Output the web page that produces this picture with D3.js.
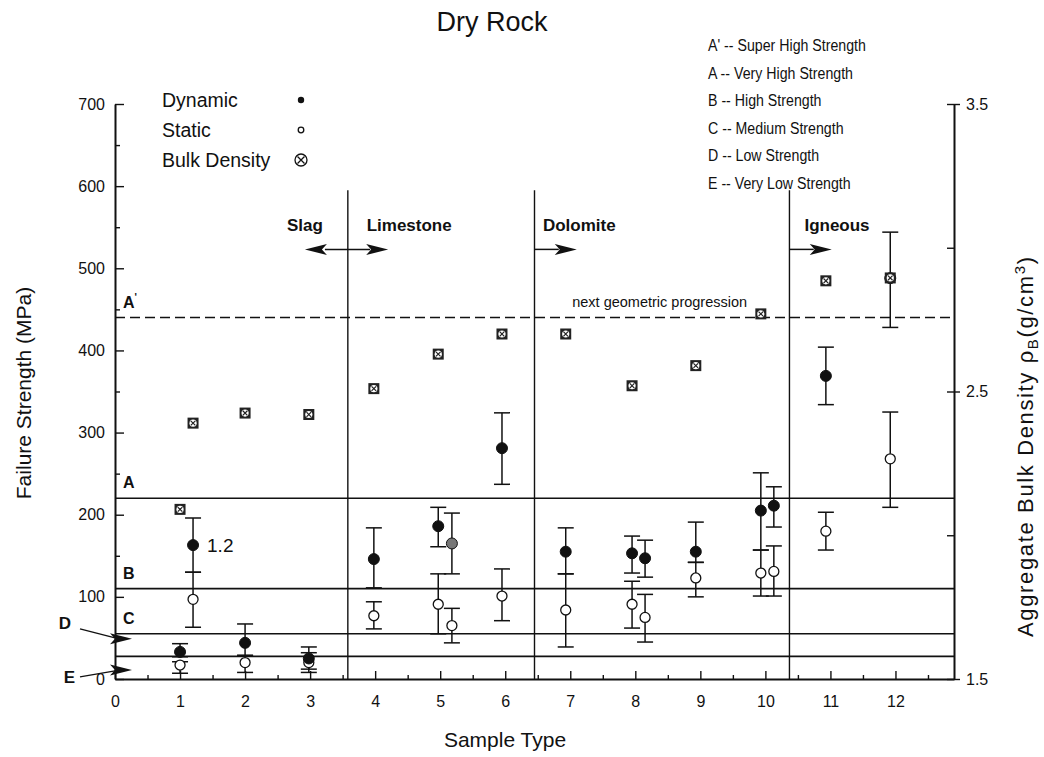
<!DOCTYPE html>
<html lang="en">
<head>
<meta charset="utf-8">
<title>Dry Rock</title>
<script src="https://cdn.jsdelivr.net/npm/d3@7"></script>
<style>
  body { margin: 0; background: #fff; }
  svg { display: block; font-family: "Liberation Sans", Arial, Helvetica, sans-serif; }
</style>
</head>
<body>
<div id="chart"></div>
<script>
    // sample positions (x in "sample type" units) and values
    var sampleX = [1, 1.2, 2, 2.98, 3.98, 4.97, 5.18, 5.95, 6.93, 7.95, 8.15, 8.93, 9.93, 10.13, 10.93, 11.92];

    // dynamic failure strength (MPa) with error bar ends
    var dynVal = [33, 163, 44, 25, 146, 186, 165, 281, 155, 153, 147, 155, 205, 211, 369, 488];
    var dynLo  = [27, 130, 29, 12, 111, 161, 128, 237, 128, 129, 124, 142, 157, 185, 334, 428];
    var dynHi  = [43, 196, 67, 39, 184, 209, 202, 324, 184, 174, 169, 191, 251, 234, 404, 544];

    // static failure strength (MPa)
    var statVal = [17, 97, 20, 20, 77, 91, 65, 101, 84, 91, 75, 123, 129, 131, 180, 268];
    var statLo  = [7, 63, 8, 8, 61, 55, 44, 71, 39, 62, 45, 100, 101, 101, 157, 209];
    var statHi  = [21, 130, 28, 32, 94, 128, 86, 134, 128, 119, 103, 142, 157, 162, 203, 325];

    // aggregate bulk density (g/cm3), right axis
    var bulkX   = [1, 1.2, 2, 2.98, 3.98, 4.97, 5.95, 6.93, 7.95, 8.93, 9.93, 10.93, 11.92];
    var bulkVal = [2.09, 2.39, 2.425, 2.42, 2.51, 2.63, 2.70, 2.70, 2.52, 2.59, 2.77, 2.885, 2.895];

    // strength class boundaries (geometric progression)
    var classLines  = [440, 220, 110, 55, 27.5];
    var classLabels = ["A", "A", "B", "C"];
    var classLegend = ["A' -- Super High Strength", "A -- Very High Strength", "B -- High Strength",
                       "C -- Medium Strength", "D -- Low Strength", "E -- Very Low Strength"];

    // rock type divisions
    var dividers = [3.58, 6.45, 10.37];
    var rockTypes = ["Slag", "Limestone", "Dolomite", "Igneous"];

    var xTicks = d3.range(0, 13);
    var yTicks = d3.range(0, 701, 100);
    var yRightTicks = [1.5, 2.5, 3.5];

    var w = 1044, h = 757;
    var ink = "#111";

    var x = d3.scaleLinear().domain([0, 12.9]).range([115, 954]);
    var y = d3.scaleLinear().domain([0, 700]).range([679, 104]);
    var yR = d3.scaleLinear().domain([1.5, 3.5]).range([679, 104]);

    var svg = d3.select("#chart").append("svg")
        .attr("width", w).attr("height", h);
    svg.append("rect").attr("width", w).attr("height", h).attr("fill", "#fff");

    // title
    svg.append("text")
        .attr("x", 492).attr("y", 31)
        .attr("text-anchor", "middle")
        .style("font-size", "27px")
        .attr("fill", ink)
        .text("Dry Rock");

    // ---- strength class lines ----
    var lines = svg.append("g").attr("stroke", ink).attr("fill", "none");
    classLines.forEach(function (v, i) {
        lines.append("line")
            .attr("x1", x(0)).attr("x2", x(12.9))
            .attr("y1", y(v)).attr("y2", y(v))
            .attr("stroke-width", 1.6)
            .attr("stroke-dasharray", i === 0 ? "10,5" : null);
    });

    // band letters sit just above their line
    classLabels.forEach(function (lab, i) {
        var t = svg.append("text")
            .attr("x", x(0) + 8).attr("y", y(classLines[i]) - 10)
            .style("font-size", "16px").style("font-weight", "bold")
            .attr("fill", ink)
            .text(lab);
        if (i === 0) {
            t.append("tspan").attr("dy", -7).style("font-size", "10px").text("'");
        }
    });

    svg.append("text")
        .attr("x", x(7.03)).attr("y", y(459) + 5)
        .style("font-size", "14.5px")
        .attr("fill", ink)
        .text("next geometric progression");

    // ---- rock type dividers ----
    dividers.forEach(function (d) {
        lines.append("line")
            .attr("x1", x(d)).attr("x2", x(d))
            .attr("y1", y(0)).attr("y2", y(595))
            .attr("stroke-width", 1.4);
    });

    function arrowHead(g, tipX, tipY, dir) {
        var len = 22, half = 5.5;
        g.append("path")
            .attr("d", "M" + tipX + "," + tipY +
                "L" + (tipX - dir * len) + "," + (tipY - half) +
                "L" + (tipX - dir * (len - 5)) + "," + tipY +
                "L" + (tipX - dir * len) + "," + (tipY + half) + "Z")
            .attr("fill", ink);
    }

    var arrowY = y(523);
    var labelY = y(553) + 6;
    var ann = svg.append("g");
    // Slag <-|-> Limestone
    ann.append("line").attr("x1", x(2.92) + 20).attr("x2", x(4.2) - 18)
        .attr("y1", arrowY).attr("y2", arrowY).attr("stroke", ink).attr("stroke-width", 1.5);
    arrowHead(ann, x(2.92), arrowY, -1);
    arrowHead(ann, x(4.2), arrowY, 1);
    // Dolomite ->
    ann.append("line").attr("x1", x(6.45)).attr("x2", x(7.1) - 18)
        .attr("y1", arrowY).attr("y2", arrowY).attr("stroke", ink).attr("stroke-width", 1.5);
    arrowHead(ann, x(7.1), arrowY, 1);
    // Igneous ->
    ann.append("line").attr("x1", x(10.37)).attr("x2", x(11.02) - 18)
        .attr("y1", arrowY).attr("y2", arrowY).attr("stroke", ink).attr("stroke-width", 1.5);
    arrowHead(ann, x(11.02), arrowY, 1);

    var rockX = [x(2.92), x(3.87), x(6.58), x(10.6)];
    rockTypes.forEach(function (r, i) {
        ann.append("text")
            .attr("x", rockX[i]).attr("y", labelY)
            .attr("text-anchor", i === 0 ? "middle" : "start")
            .style("font-size", "17px").style("font-weight", "bold")
            .attr("fill", ink)
            .text(r);
    });

    // ---- axes ----
    function styleAxis(g) {
        g.select(".domain").attr("stroke", ink).attr("stroke-width", 2);
        g.selectAll(".tick line").attr("stroke", ink).attr("stroke-width", 1.4);
        g.selectAll(".tick text").attr("fill", ink).style("font-size", "16px");
    }

    svg.append("g")
        .attr("transform", "translate(" + x(0) + ",0)")
        .call(d3.axisLeft(y).tickValues(yTicks).tickSizeInner(-9).tickSizeOuter(0).tickPadding(10))
        .call(styleAxis);
    svg.append("g")
        .attr("transform", "translate(" + x(0) + ",0)")
        .call(d3.axisLeft(y).tickValues(d3.range(50, 700, 100)).tickSize(-5).tickFormat(""))
        .call(styleAxis)
        .call(function (g) { g.select(".domain").remove(); });

    svg.append("g")
        .attr("transform", "translate(0," + y(0) + ")")
        .call(d3.axisBottom(x).tickValues(xTicks).tickSizeInner(-8).tickSizeOuter(0).tickPadding(17))
        .call(styleAxis);
    svg.append("g")
        .attr("transform", "translate(0," + y(0) + ")")
        .call(d3.axisBottom(x).tickValues(d3.range(0.5, 12.9, 1)).tickSize(-4).tickFormat(""))
        .call(styleAxis)
        .call(function (g) { g.select(".domain").remove(); });

    svg.append("g")
        .attr("transform", "translate(" + x(12.9) + ",0)")
        .call(d3.axisRight(yR).tickValues(yRightTicks).tickSizeInner(6).tickSizeOuter(0).tickPadding(6)
            .tickFormat(d3.format(".1f")))
        .call(styleAxis);
    svg.append("g")
        .attr("transform", "translate(" + x(12.9) + ",0)")
        .call(d3.axisRight(yR).tickValues(d3.range(1.5, 3.51, 0.5)).tickSize(-7).tickFormat(""))
        .call(styleAxis)
        .call(function (g) { g.select(".domain").remove(); });

    // axis titles
    svg.append("text")
        .attr("transform", "translate(24," + 393 + ")rotate(-90)")
        .attr("text-anchor", "middle").attr("dy", "0.35em")
        .style("font-size", "21px").attr("fill", ink)
        .text("Failure Strength (MPa)");

    var rt = svg.append("text")
        .attr("transform", "translate(1025," + 447 + ")rotate(-90)")
        .attr("text-anchor", "middle").attr("dy", "0.35em")
        .attr("textLength", 380).attr("lengthAdjust", "spacing")
        .style("font-size", "22px").attr("fill", ink);
    rt.append("tspan").text("Aggregate Bulk Density \u03c1");
    rt.append("tspan").attr("dy", 5).style("font-size", "15px").text("B");
    rt.append("tspan").attr("dy", -5).text("(g/cm");
    rt.append("tspan").attr("dy", -8).style("font-size", "15px").text("3");
    rt.append("tspan").attr("dy", 8).text(")");

    svg.append("text")
        .attr("x", 505).attr("y", 747)
        .attr("text-anchor", "middle")
        .style("font-size", "21px").attr("fill", ink)
        .text("Sample Type");

    // D and E pointers on the left axis
    var ptr = svg.append("g");
    ptr.append("line").attr("x1", x(0) - 35).attr("y1", y(61)).attr("x2", x(0)).attr("y2", y(50))
        .attr("stroke", ink).attr("stroke-width", 1.3);
    arrowHead(ptr, x(0) + 17, y(49), 1);
    ptr.append("text").attr("x", x(0) - 44).attr("y", y(68) + 6)
        .attr("text-anchor", "end")
        .style("font-size", "17px").style("font-weight", "bold").attr("fill", ink).text("D");
    ptr.append("line").attr("x1", x(0) - 35).attr("y1", y(2.5)).attr("x2", x(0)).attr("y2", y(10))
        .attr("stroke", ink).attr("stroke-width", 1.3);
    arrowHead(ptr, x(0) + 17, y(11), 1);
    ptr.append("text").attr("x", x(0) - 40).attr("y", y(2.5) + 6)
        .attr("text-anchor", "end")
        .style("font-size", "17px").style("font-weight", "bold").attr("fill", ink).text("E");

    // ---- error bars ----
    function errorBars(vals, lo, hi) {
        var g = svg.append("g").attr("stroke", ink).attr("stroke-width", 1.5);
        sampleX.forEach(function (sx, i) {
            var cx = x(sx);
            g.append("line").attr("x1", cx).attr("x2", cx).attr("y1", y(lo[i])).attr("y2", y(hi[i]));
            g.append("line").attr("x1", cx - 8).attr("x2", cx + 8).attr("y1", y(lo[i])).attr("y2", y(lo[i]));
            g.append("line").attr("x1", cx - 8).attr("x2", cx + 8).attr("y1", y(hi[i])).attr("y2", y(hi[i]));
        });
    }
    errorBars(statVal, statLo, statHi);
    errorBars(dynVal, dynLo, dynHi);

    // static: open circles
    svg.append("g").selectAll("circle")
        .data(statVal)
        .enter()
        .append("circle")
        .attr("cx", function (d, i) { return x(sampleX[i]); })
        .attr("cy", function (d) { return y(d); })
        .attr("r", 5)
        .attr("fill", "#fff")
        .attr("stroke", ink)
        .attr("stroke-width", 1.3);

    // dynamic: filled circles (the second sample-5 point is shaded)
    svg.append("g").selectAll("circle")
        .data(dynVal)
        .enter()
        .append("circle")
        .attr("cx", function (d, i) { return x(sampleX[i]); })
        .attr("cy", function (d) { return y(d); })
        .attr("r", 5.5)
        .attr("fill", function (d, i) { return i === 6 ? "#777" : ink; })
        .attr("stroke", ink)
        .attr("stroke-width", 1);

    svg.append("text")
        .attr("x", x(1.2) + 14).attr("y", y(163) + 7)
        .style("font-size", "19px").attr("fill", ink)
        .text("1.2");

    // bulk density boxes
    var bulk = svg.append("g").selectAll("g")
        .data(bulkVal)
        .enter()
        .append("g")
        .attr("transform", function (d, i) { return "translate(" + x(bulkX[i]) + "," + yR(d) + ")"; });
    bulk.append("rect").attr("x", -5.5).attr("y", -5.5).attr("width", 11).attr("height", 11)
        .attr("fill", "#222");
    bulk.append("circle").attr("r", 3.6).attr("fill", "#fff");
    bulk.append("path").attr("d", "M-2.3,-2.3L2.3,2.3M-2.3,2.3L2.3,-2.3")
        .attr("stroke", "#222").attr("stroke-width", 1.2);

    // ---- legends ----
    var legNames = ["Dynamic", "Static", "Bulk Density"];
    var legY = [100, 130, 160];
    var leg = svg.append("g");
    legNames.forEach(function (n, i) {
        leg.append("text").attr("x", 162).attr("y", legY[i] + 7)
            .style("font-size", "19.5px").attr("fill", ink).text(n);
    });
    leg.append("circle").attr("cx", 301).attr("cy", legY[0]).attr("r", 3.2).attr("fill", ink);
    leg.append("circle").attr("cx", 301).attr("cy", legY[1]).attr("r", 2.8)
        .attr("fill", "#fff").attr("stroke", ink).attr("stroke-width", 1.3);
    leg.append("circle").attr("cx", 301).attr("cy", legY[2]).attr("r", 6)
        .attr("fill", "#fff").attr("stroke", ink).attr("stroke-width", 1.3);
    leg.append("path").attr("transform", "translate(301," + legY[2] + ")")
        .attr("d", "M-3.5,-3.5L3.5,3.5M-3.5,3.5L3.5,-3.5")
        .attr("stroke", ink).attr("stroke-width", 1.3);

    // class legend, a narrow face: squeeze horizontally
    svg.append("g")
        .attr("transform", "translate(708,0) scale(0.86,1)")
        .selectAll("text")
        .data(classLegend)
        .enter()
        .append("text")
        .attr("x", 0)
        .attr("y", function (d, i) { return 51 + i * 27.6; })
        .style("font-size", "16.5px")
        .attr("fill", ink)
        .text(function (d) { return d; });
</script>
</body>
</html>
